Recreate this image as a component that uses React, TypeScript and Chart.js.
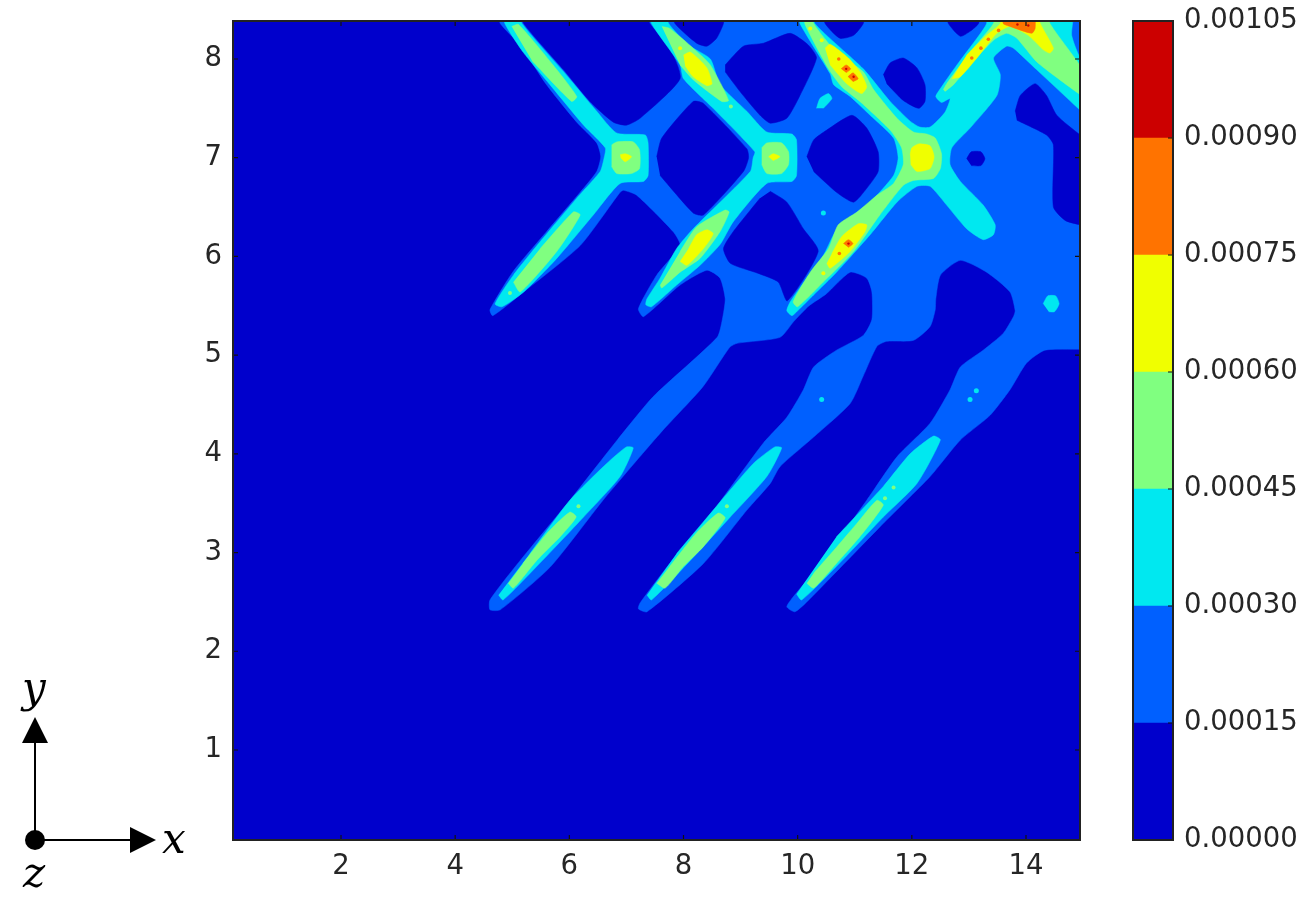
import React, { useEffect, useRef } from "react";
import { Chart, registerables } from "chart.js";

Chart.register(...registerables);

type P = [number, number];

const xTicks = [2, 4, 6, 8, 10, 12, 14];
const yTicks = [1, 2, 3, 4, 5, 6, 7, 8];
const colorLevels = [0, 0.00015, 0.0003, 0.00045, 0.0006, 0.00075, 0.0009, 0.00105];
const bandColors = ["#0000cc", "#0060ff", "#00e8f0", "#80ff80", "#f0ff00", "#ff7300", "#cc0000"];

// 0.00015 contour: outer boundary of the raised region
const band1Main: P[] = [
  [4.75, 8.5], [4.79, 8.36], [5.14, 8.14], [5.6, 7.74], [6.13, 7.36], [6.48, 7.15], [6.55, 7.01], [6.48, 6.86], [6.19, 6.65], [5.6, 6.25], [5.02, 5.85], [4.61, 5.46], [4.66, 5.4],
  [5.2, 5.64], [6.19, 6.11], [6.89, 6.65], [6.95, 6.67], [7.18, 6.62], [7.82, 6.25], [7.94, 6.11], [7.53, 5.81], [7.21, 5.47], [7.3, 5.39], [7.94, 5.71], [8.41, 5.86],
  [8.64, 5.78], [8.73, 5.57], [8.68, 5.36], [8.59, 5.18], [7.47, 4.58], [6.84, 4.14], [6.01, 3.53], [5.14, 2.92], [4.61, 2.52], [4.61, 2.42], [4.79, 2.42],
  [5.66, 2.85], [6.59, 3.53], [7.19, 3.94], [7.64, 4.24], [8.34, 4.68], [8.81, 5.08], [8.94, 5.12], [9.69, 5.18], [9.93, 5.34], [10.2, 5.5], [10.5, 5.62], [10.92, 5.84], [11.21, 5.78], [11.3, 5.64],
  [11.3, 5.36], [11.15, 5.2], [10.68, 5.05], [10.28, 4.88], [10.1, 4.65], [9.81, 4.37], [9.4, 4.11], [8.58, 3.47], [7.76, 2.89], [7.24, 2.49], [7.21, 2.43], [7.36, 2.4],
  [8.35, 2.89], [9.11, 3.43], [9.52, 3.7], [9.69, 3.87], [10.28, 4.17], [10.92, 4.51], [11.15, 4.79], [11.39, 5.09], [11.56, 5.14], [12.03, 5.15], [12.32, 5.29], [12.41, 5.46],
  [12.42, 5.57], [12.5, 5.81], [12.85, 5.96], [13.31, 5.84], [13.72, 5.64], [13.81, 5.45], [13.78, 5.39], [13.6, 5.22], [13.25, 5.05], [12.85, 4.88], [12.67, 4.65], [12.32, 4.31], [11.74, 3.97], [11.21, 3.53], [10.45, 2.92], [9.92, 2.55], [9.81, 2.45], [9.95, 2.4],
  [10.16, 2.5], [11.44, 3.26], [12.32, 3.77], [12.85, 4.14], [13.37, 4.39], [13.72, 4.65], [14.01, 4.92], [14.33, 5.05], [14.95, 5.06], [15.1, 5.06], [15.1, 8.5],
];

// areas below 0.00015 enclosed by the raised region
const holeTop1: P[] = [[5.15, 8.5], [5.2, 8.36], [5.9, 7.89], [6.36, 7.57], [6.77, 7.36], [7.0, 7.33], [7.24, 7.4], [7.94, 7.8], [7.76, 8.11], [7.41, 8.36], [7.35, 8.5]];
const holeTop2: P[] = [[7.8, 8.5], [7.85, 8.36], [8.23, 8.16], [8.41, 8.13], [8.58, 8.21], [8.7, 8.36], [8.72, 8.5]];
const holeUpper: P[] = [[8.73, 7.94], [9.05, 8.13], [9.4, 8.16], [9.87, 8.26], [10.19, 8.14], [10.33, 8.01], [10.04, 7.63], [9.81, 7.4], [9.52, 7.35], [9.34, 7.43], [8.99, 7.67], [8.73, 7.87]];
const holeDiamond1: P[] = [[7.53, 7.01], [7.62, 7.2], [8.17, 7.57], [8.35, 7.55], [9.11, 7.09], [9.14, 7.0], [9.05, 6.86], [8.35, 6.42], [8.17, 6.44], [7.59, 6.82]];
const holeDiamond2: P[] = [[10.16, 7.01], [10.28, 7.18], [10.51, 7.28], [10.95, 7.43], [11.21, 7.3], [11.41, 7.06], [11.41, 6.86], [11.21, 6.69], [10.98, 6.55], [10.68, 6.65], [10.28, 6.86]];
const holeLower: P[] = [[9.52, 6.66], [9.81, 6.55], [10.1, 6.28], [10.36, 6.05], [9.82, 5.55], [9.66, 5.74], [9.3, 5.83], [8.82, 5.93], [8.7, 6.08], [8.87, 6.25], [9.34, 6.59]];
const holeTop3: P[] = [[10.45, 8.5], [10.48, 8.36], [10.74, 8.21], [10.98, 8.24], [11.15, 8.36], [11.18, 8.5]];
const holeOval: P[] = [[11.5, 7.84], [11.62, 7.96], [11.85, 8.01], [12.09, 7.91], [12.23, 7.74], [12.23, 7.57], [12.12, 7.5], [11.85, 7.58], [11.56, 7.75]];
const holeTop4: P[] = [[12.6, 8.5], [12.64, 8.36], [12.85, 8.23], [13.02, 8.28], [13.17, 8.36], [13.2, 8.5]];
const holeSmall: P[] = [[12.96, 6.99], [13.04, 7.06], [13.21, 7.06], [13.28, 6.99], [13.21, 6.92], [13.04, 6.92]];
const holeRight: P[] = [[13.81, 7.47], [13.9, 7.63], [14.16, 7.75], [14.36, 7.63], [14.54, 7.43], [14.95, 7.23], [15.1, 7.18], [15.1, 6.33], [14.7, 6.36], [14.48, 6.5], [14.48, 7.13], [14.36, 7.23], [13.84, 7.38]];

// 0.00030 contour
const band2Cross1: P[] = [[4.85, 8.5], [4.87, 8.36], [5.19, 8.07], [5.66, 7.74], [6.25, 7.33], [6.63, 7.1], [6.61, 7.0], [6.54, 6.86], [6.13, 6.59], [5.49, 6.15], [5.02, 5.81], [4.7, 5.52], [4.82, 5.49], [5.2, 5.64], [5.78, 5.98], [6.42, 6.42], [6.89, 6.74], [7.3, 6.76], [7.38, 6.82], [7.38, 7.15], [7.33, 7.23], [6.83, 7.25], [6.48, 7.47], [5.9, 7.87], [5.17, 8.36], [5.15, 8.5]];
const band2Cross2: P[] = [[7.42, 8.5], [7.44, 8.36], [7.94, 7.94], [8.0, 7.8], [8.52, 7.5], [9.25, 7.06], [9.22, 7.0], [9.17, 6.86], [8.17, 6.28], [7.88, 6.08], [7.59, 5.78], [7.36, 5.57], [7.34, 5.51], [7.44, 5.49], [7.88, 5.71], [8.29, 5.91], [8.64, 6.12], [8.87, 6.35], [9.46, 6.74], [9.9, 6.76], [9.98, 6.82], [9.98, 7.18], [9.9, 7.24], [9.46, 7.26], [9.11, 7.47], [8.64, 7.74], [8.47, 8.0], [8.09, 8.14], [7.74, 8.36], [7.7, 8.5]];
const band2Cross3: P[] = [[10.02, 8.5], [10.04, 8.36], [10.57, 7.85], [10.63, 7.74], [10.92, 7.62], [11.27, 7.43], [11.68, 7.2], [11.76, 7.0], [11.68, 6.82], [11.27, 6.55], [10.77, 6.33], [10.63, 6.22], [10.45, 6.01], [10.16, 5.78], [9.87, 5.54], [9.81, 5.45], [9.9, 5.4], [10.0, 5.45], [10.28, 5.61], [10.68, 5.84], [11.27, 6.22], [11.74, 6.55], [12.09, 6.71], [12.32, 6.71], [12.61, 6.52], [12.96, 6.28], [13.25, 6.17], [13.43, 6.22], [13.46, 6.32], [13.25, 6.52], [12.85, 6.76], [12.67, 6.93], [12.7, 7.1], [13.02, 7.3], [13.49, 7.63], [13.55, 7.84], [13.43, 8.01], [13.66, 8.13], [13.78, 8.11], [14.19, 7.89], [14.95, 7.48], [15.1, 7.4], [15.1, 7.95], [14.95, 8.01], [14.8, 8.24], [14.8, 8.5], [13.3, 8.5], [13.31, 8.36], [13.14, 8.21], [12.79, 7.94], [12.5, 7.7], [12.42, 7.62], [12.52, 7.56], [12.67, 7.6], [12.58, 7.46], [12.32, 7.31], [12.14, 7.31], [11.97, 7.37], [11.62, 7.57], [11.15, 7.9], [10.3, 8.36], [10.3, 8.5]];
const band2ArmA: P[] = [[4.76, 2.57], [4.84, 2.52], [5.43, 2.86], [6.25, 3.36], [6.89, 3.77], [7.12, 4.06], [7.0, 4.07], [6.65, 3.9], [6.01, 3.53], [5.31, 2.99]];
const band2ArmB: P[] = [[7.36, 2.57], [7.44, 2.52], [8.12, 2.92], [8.82, 3.36], [9.46, 3.77], [9.72, 4.06], [9.6, 4.07], [9.22, 3.9], [8.58, 3.47], [7.88, 2.99]];
const band2ArmC: P[] = [[9.98, 2.58], [10.07, 2.52], [10.68, 2.86], [11.5, 3.36], [12.09, 3.7], [12.5, 4.14], [12.38, 4.18], [11.97, 4.0], [11.5, 3.67], [10.68, 3.16]];
const band2Patch: P[] = [[10.33, 7.5], [10.39, 7.6], [10.54, 7.65], [10.6, 7.6], [10.45, 7.5]];
const band2Spot: P[] = [[14.3, 5.52], [14.38, 5.6], [14.52, 5.6], [14.58, 5.52], [14.5, 5.44], [14.4, 5.44]];
const band2Specks: P[] = [[10.45, 6.44], [10.42, 4.55], [13.02, 4.55], [13.13, 4.64]];

// 0.00045 contour
const band3ArmUp1: P[] = [[4.99, 8.33], [5.11, 8.35], [5.7, 7.95], [6.13, 7.62], [6.04, 7.57], [5.35, 7.98]];
const band3Square1: P[] = [[6.74, 7.13], [6.83, 7.16], [7.12, 7.16], [7.23, 7.08], [7.23, 6.89], [7.09, 6.84], [6.83, 6.84], [6.74, 6.91]];
const band3ArmLow1: P[] = [[5.02, 5.74], [5.14, 5.64], [5.78, 6.05], [6.19, 6.42], [6.07, 6.45], [5.49, 6.08]];
const band3ArmUp2: P[] = [[7.62, 8.33], [7.76, 8.31], [8.17, 8.11], [8.47, 7.94], [8.79, 7.58], [8.67, 7.57], [8.17, 7.79], [7.94, 7.94]];
const band3Square2: P[] = [[9.37, 7.1], [9.46, 7.15], [9.72, 7.15], [9.84, 7.06], [9.84, 6.93], [9.72, 6.84], [9.46, 6.84], [9.37, 6.93]];
const band3ArmLow2: P[] = [[7.59, 5.71], [7.62, 5.68], [7.94, 5.84], [8.29, 5.98], [8.64, 6.25], [8.8, 6.45], [8.73, 6.47], [8.23, 6.3], [7.94, 6.05]];
const band3Cross3: P[] = [[10.1, 8.5], [10.13, 8.35], [10.54, 7.9], [10.77, 7.72], [11.09, 7.57], [11.62, 7.28], [11.82, 7.1], [11.85, 6.93], [11.68, 6.74], [11.39, 6.62], [11.04, 6.45], [10.71, 6.32], [10.54, 6.08], [10.22, 5.84], [9.92, 5.54], [10.0, 5.49], [10.45, 5.74], [10.98, 6.05], [11.44, 6.42], [11.85, 6.72], [12.03, 6.77], [12.38, 6.79], [12.5, 6.89], [12.52, 7.04], [12.41, 7.2], [12.26, 7.24], [12.03, 7.26], [11.74, 7.4], [11.33, 7.69], [11.15, 7.87], [10.68, 8.07], [10.28, 8.36], [10.26, 8.5]];
const band3TopRight: P[] = [[12.55, 7.69], [12.61, 7.75], [13.02, 8.07], [13.43, 8.36], [13.45, 8.5], [14.4, 8.5], [14.42, 8.36], [15.1, 7.8], [15.1, 7.58], [14.92, 7.65], [14.19, 7.97], [13.84, 8.21], [13.66, 8.26], [13.43, 8.19], [13.02, 7.94], [12.73, 7.74], [12.58, 7.67]];
const band3ArmA: P[] = [[4.93, 2.69], [5.02, 2.64], [5.43, 2.92], [5.84, 3.16], [6.12, 3.36], [6.01, 3.41], [5.6, 3.19], [5.19, 2.89]];
const band3ArmB: P[] = [[7.53, 2.69], [7.68, 2.64], [8.0, 2.86], [8.35, 3.06], [8.73, 3.35], [8.61, 3.4], [8.23, 3.2], [7.76, 2.86]];
const band3ArmC: P[] = [[10.16, 2.69], [10.28, 2.64], [10.68, 2.89], [11.09, 3.16], [11.5, 3.48], [11.39, 3.53], [11.03, 3.29], [10.63, 3.02], [10.28, 2.79]];
const band3Specks: P[] = [[4.96, 5.63], [6.16, 3.47], [8.76, 3.47], [11.68, 3.66], [11.53, 3.55], [8.83, 7.52]];

// 0.00060 contour
const band4Core1: P[] = [[6.89, 7.03], [6.98, 7.04], [7.09, 7.01], [6.98, 6.96], [6.9, 7.0]];
const band4Core2: P[] = [[9.49, 7.01], [9.57, 7.04], [9.69, 7.01], [9.57, 6.97]];
const band4ArmUp2: P[] = [[8.0, 8.04], [8.12, 8.07], [8.41, 7.91], [8.5, 7.75], [8.41, 7.73], [8.17, 7.82], [8.03, 7.93]];
const band4ArmLow2: P[] = [[7.94, 5.95], [8.06, 5.91], [8.35, 6.08], [8.52, 6.23], [8.41, 6.27], [8.23, 6.22], [8.09, 6.08]];
const band4Core3: P[] = [[11.97, 7.03], [12.0, 7.1], [12.12, 7.14], [12.32, 7.12], [12.39, 7.01], [12.32, 6.89], [12.09, 6.86], [11.98, 6.93]];
const band4ArmUp3: P[] = [[10.48, 8.11], [10.57, 8.15], [10.89, 8.01], [11.09, 7.87], [11.21, 7.72], [11.12, 7.65], [10.86, 7.75], [10.57, 7.94]];
const band4ArmLow3: P[] = [[10.51, 5.93], [10.57, 5.88], [10.92, 6.05], [11.18, 6.25], [11.21, 6.32], [11.06, 6.33], [10.77, 6.2], [10.6, 6.03]];
const band4TopRight: P[] = [[12.7, 7.8], [12.85, 7.82], [13.14, 8.01], [13.49, 8.26], [13.72, 8.33], [14.04, 8.24], [14.31, 8.09], [14.42, 8.06], [14.48, 8.11], [14.25, 8.36], [14.2, 8.5], [13.55, 8.5], [13.55, 8.36], [13.31, 8.24], [12.96, 8.04]];
const band4Specks: P[] = [[7.94, 8.11], [10.22, 8.31], [10.42, 8.19], [10.45, 5.83]];

// 0.00075 and 0.00090 contours
const band5TopRight: P[] = [[13.6, 8.5], [13.6, 8.36], [13.72, 8.33], [14.1, 8.26], [14.16, 8.31], [14.16, 8.5]];
const band5Blob1: P[] = [[10.76, 7.9], [10.85, 7.94], [10.93, 7.9], [10.85, 7.86]];
const band5Blob2: P[] = [[10.88, 7.82], [10.97, 7.86], [11.06, 7.8], [10.97, 7.77]];
const band5Blob3: P[] = [[10.8, 6.13], [10.89, 6.17], [10.97, 6.13], [10.89, 6.09]];
const band5Specks: P[] = [[10.72, 8.0], [10.73, 6.03], [13.05, 8.01], [13.21, 8.11], [13.34, 8.2], [13.52, 8.29]];
const band6Specks: P[] = [[10.85, 7.9], [10.98, 7.82], [10.89, 6.13], [14.04, 8.34], [13.85, 8.35]];

const layers: { level: number; polys: P[][]; specks?: P[]; radius?: number }[] = [
  { level: 1, polys: [band1Main] },
  { level: 0, polys: [holeTop1, holeTop2, holeUpper, holeDiamond1, holeDiamond2, holeLower, holeTop3, holeOval, holeTop4, holeSmall, holeRight] },
  { level: 2, polys: [band2Cross1, band2Cross2, band2Cross3, band2ArmA, band2ArmB, band2ArmC, band2Patch, band2Spot], specks: band2Specks, radius: 2.5 },
  { level: 3, polys: [band3ArmUp1, band3Square1, band3ArmLow1, band3ArmUp2, band3Square2, band3ArmLow2, band3Cross3, band3TopRight, band3ArmA, band3ArmB, band3ArmC], specks: band3Specks, radius: 2 },
  { level: 4, polys: [band4Core1, band4Core2, band4ArmUp2, band4ArmLow2, band4Core3, band4ArmUp3, band4ArmLow3, band4TopRight], specks: band4Specks, radius: 2 },
  { level: 5, polys: [band5TopRight, band5Blob1, band5Blob2, band5Blob3], specks: band5Specks, radius: 1.8 },
  { level: 6, polys: [], specks: band6Specks, radius: 1.2 },
];

const FONT = { family: "'DejaVu Sans'", size: 27.5 };
const TEXT = "#262626";

const framePlugin = {
  id: "frame",
  beforeDatasetsDraw(chart: any) {
    const a = chart.chartArea;
    if (chart.options.plugins.frame?.fill) {
      chart.ctx.fillStyle = chart.options.plugins.frame.fill;
      chart.ctx.fillRect(a.left, a.top, a.right - a.left, a.bottom - a.top);
    }
  },
  afterDraw(chart: any) {
    const { ctx, chartArea: a, scales } = chart;
    const len = 5;
    const isMap = scales.x.type === "linear";
    ctx.save();
    ctx.strokeStyle = "#111";
    ctx.lineWidth = 1.2;
    ctx.beginPath();
    if (isMap) {
      for (const t of scales.x.ticks) {
        const p = scales.x.getPixelForValue(t.value);
        ctx.moveTo(p, a.bottom); ctx.lineTo(p, a.bottom - len);
        ctx.moveTo(p, a.top); ctx.lineTo(p, a.top + len);
      }
    }
    for (const t of scales.y.ticks) {
      const p = scales.y.getPixelForValue(t.value);
      ctx.moveTo(a.right, p); ctx.lineTo(a.right - len, p);
      if (isMap) { ctx.moveTo(a.left, p); ctx.lineTo(a.left + len, p); }
    }
    ctx.stroke();
    ctx.lineWidth = 2;
    ctx.strokeStyle = "#222";
    ctx.strokeRect(a.left, a.top, a.right - a.left, a.bottom - a.top);
    ctx.restore();
  },
};

const noPadX = (s: any) => { s.height = 57; s.paddingLeft = 0; s.paddingRight = 0; };
const noPadY = (width: number) => (s: any) => { s.width = width; s.paddingTop = 0; s.paddingBottom = 0; };

export default function App() {
  const mapRef = useRef<HTMLCanvasElement>(null);
  const barRef = useRef<HTMLCanvasElement>(null);

  useEffect(() => {
    const datasets: any[] = [];
    for (const layer of layers) {
      for (const poly of layer.polys) {
        datasets.push({
          data: poly.map(([x, y]) => ({ x, y })),
          showLine: true,
          fill: "shape",
          tension: 0.2,
          backgroundColor: bandColors[layer.level],
          borderColor: bandColors[layer.level],
          borderWidth: 0.5,
          pointRadius: 0,
        });
      }
      if (layer.specks) {
        datasets.push({
          data: layer.specks.map(([x, y]) => ({ x, y })),
          showLine: false,
          pointRadius: layer.radius,
          pointBackgroundColor: bandColors[layer.level],
          pointBorderWidth: 0,
        });
      }
    }
    // Chart.js paints the first dataset last, so the lowest band goes to the end.
    datasets.reverse();
    const map = new Chart(mapRef.current!, {
      type: "scatter",
      data: { datasets },
      plugins: [framePlugin],
      options: {
        animation: false,
        responsive: false,
        devicePixelRatio: 1,
        events: [],
        layout: { padding: { top: 21, right: 228, left: 0, bottom: 0 } },
        plugins: { legend: { display: false }, tooltip: { enabled: false }, frame: { fill: bandColors[0] } } as any,
        scales: {
          x: {
            type: "linear", min: 0.108, max: 14.946,
            grid: { display: false, drawTicks: false }, border: { display: false },
            afterBuildTicks: (s: any) => { s.ticks = xTicks.map((value) => ({ value })); },
            afterFit: noPadX,
            ticks: { font: FONT, color: TEXT, padding: 10, maxRotation: 0, autoSkip: false },
          },
          y: {
            type: "linear", min: 0.088, max: 8.385,
            grid: { display: false, drawTicks: false }, border: { display: false },
            afterBuildTicks: (s: any) => { s.ticks = yTicks.map((value) => ({ value })); },
            afterFit: noPadY(233),
            ticks: { font: FONT, color: TEXT, padding: 11, autoSkip: false },
          },
        },
      },
    });

    const bar = new Chart(barRef.current!, {
      type: "bar",
      data: {
        labels: [""],
        datasets: bandColors.map((color, i) => ({
          data: [[colorLevels[i], colorLevels[i + 1]]] as any,
          backgroundColor: color,
          borderWidth: 0,
          barPercentage: 1,
          categoryPercentage: 1,
          grouped: false,
        })),
      },
      plugins: [framePlugin],
      options: {
        animation: false,
        responsive: false,
        devicePixelRatio: 1,
        events: [],
        layout: { padding: { top: 21, left: 1133, right: 0, bottom: 57 } },
        plugins: { legend: { display: false }, tooltip: { enabled: false } },
        scales: {
          x: { display: false },
          y: {
            position: "right", min: 0, max: 0.00105,
            grid: { display: false, drawTicks: false }, border: { display: false },
            afterBuildTicks: (s: any) => { s.ticks = colorLevels.map((value) => ({ value })); },
            afterFit: noPadY(135),
            ticks: {
              font: FONT, color: TEXT, padding: 11, autoSkip: false,
              callback: (v: any) => Number(v).toFixed(5),
            },
          },
        },
      },
    });

    return () => { map.destroy(); bar.destroy(); };
  }, []);

  const abs: React.CSSProperties = { position: "absolute", left: 0, top: 0 };
  const serif = { fontFamily: "'DejaVu Serif'", fontStyle: "italic", fontSize: 42, fill: "#000" } as const;
  return (
    <div style={{ ...abs, width: 1308, height: 897, background: "#fff", overflow: "hidden" }}>
      <canvas ref={mapRef} width={1308} height={897} style={abs} />
      <canvas ref={barRef} width={1308} height={897} style={abs} />
      <svg width={1308} height={897} style={{ ...abs, pointerEvents: "none" }}>
        <line x1={35} y1={840} x2={35} y2={740} stroke="#000" strokeWidth={2} />
        <line x1={35} y1={840} x2={132} y2={840} stroke="#000" strokeWidth={2} />
        <polygon points="35,717 22,743 48,743" fill="#000" />
        <polygon points="156,840 130,827 130,853" fill="#000" />
        <circle cx={35} cy={840} r={10} fill="#000" />
        <text x={162} y={853} style={serif}>x</text>
        <text x={22} y={702} style={serif}>y</text>
        <text x={23} y={887} style={serif}>z</text>
      </svg>
    </div>
  );
}
